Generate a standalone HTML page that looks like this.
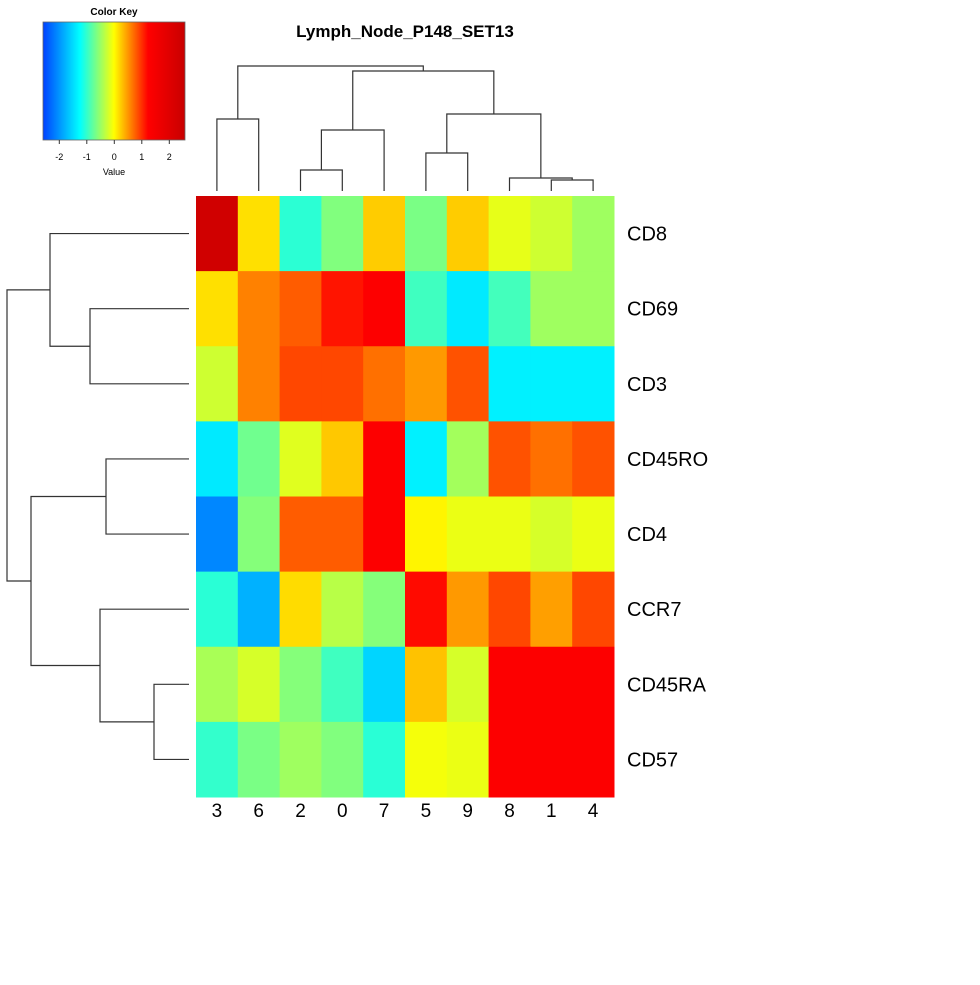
<!DOCTYPE html>
<html><head><meta charset="utf-8"><style>
body{margin:0;background:#fff;font-family:"Liberation Sans",sans-serif}
</style></head><body>
<svg id="chart" width="980" height="980" xmlns="http://www.w3.org/2000/svg">
<defs><linearGradient id="kg" x1="0" x2="1" y1="0" y2="0">
<stop offset="0" stop-color="#0040ff"/><stop offset="0.26" stop-color="#00ffff"/><stop offset="0.5" stop-color="#ffff00"/><stop offset="0.74" stop-color="#ff0000"/><stop offset="1" stop-color="#c80000"/></linearGradient></defs>
<rect width="980" height="980" fill="#fff"/>
<text x="405" y="37" font-size="17" font-weight="bold" text-anchor="middle">Lymph_Node_P148_SET13</text>
<g>
<text x="114" y="15" font-size="10" font-weight="bold" text-anchor="middle">Color Key</text>
<rect x="43" y="22" width="142" height="118" fill="url(#kg)" stroke="#666" stroke-width="0.8"/>
<g id="keyticks"></g>
<text x="114" y="175" font-size="9" text-anchor="middle">Value</text>
</g>
<g id="cells"></g><g id="labels"></g><g id="dendro" stroke="#333" stroke-width="1.2" fill="none"></g>
</svg>
<script>
const rows=["CD8","CD69","CD3","CD45RO","CD4","CCR7","CD45RA","CD57"];
const cols=["3","6","2","0","7","5","9","8","1","4"];
const vCD8=[2.4,0.15,-1.04,-0.62,0.25,-0.65,0.25,-0.12,-0.24,-0.47];
const vCD69=[0.15,0.62,0.8,1.15,1.3,-0.94,-1.4,-0.92,-0.47,-0.47];
const vCD3=[-0.24,0.62,0.9,0.9,0.7,0.5,0.85,-1.35,-1.35,-1.35];
const vCD45RO=[-1.4,-0.7,-0.15,0.27,1.3,-1.35,-0.45,0.85,0.7,0.85];
const vCD4=[-2.1,-0.6,0.8,0.8,1.3,0.05,-0.1,-0.1,-0.2,-0.1];
const vCCR7=[-1.05,-1.8,0.17,-0.35,-0.6,1.2,0.5,0.9,0.47,0.9];
const vCD45RA=[-0.42,-0.2,-0.6,-0.94,-1.55,0.3,-0.2,1.3,1.3,1.3];
const vCD57=[-1.0,-0.65,-0.47,-0.62,-1.05,-0.05,-0.1,1.3,1.3,1.3];
const keyTicks=[-2,-1,0,1,2];
const values=[vCD8,vCD69,vCD3,vCD45RO,vCD4,vCCR7,vCD45RA,vCD57];
const NS="http://www.w3.org/2000/svg";
const X0=196,X1=614,Y0=196,Y1=797;
const cw=(X1-X0)/cols.length,rh=(Y1-Y0)/rows.length;
const xPos=i=>X0+i*cw, yPos=j=>Y0+j*rh;
const keyX=v=>114.3+v*27.5;
function color(v){
 const l=(a,b,t)=>Math.round(a+(b-a)*Math.max(0,Math.min(1,t)));
 let r,g,b;
 if(v<-1.25){const t=(v+2.6)/1.35;r=0;g=l(64,255,t);b=255;}
 else if(v<0){const t=(v+1.25)/1.25;r=l(0,255,t);g=255;b=l(255,0,t);}
 else if(v<1.25){const t=v/1.25;r=255;g=l(255,0,t);b=0;}
 else{const t=(v-1.25)/1.35;r=l(255,200,t);g=0;b=0;}
 return `rgb(${r},${g},${b})`;
}
function mk(tag,attrs,parent){const e=document.createElementNS(NS,tag);for(const k in attrs)e.setAttribute(k,attrs[k]);parent.appendChild(e);return e;}
const cells=document.getElementById('cells');
values.forEach((row,j)=>row.forEach((v,i)=>{
 const r=mk('rect',{x:xPos(i),y:yPos(j),width:cw+0.5,height:rh+0.5,fill:color(v)},cells);
 
 
}));
const labels=document.getElementById('labels');
rows.forEach((n,j)=>{const t=mk('text',{x:627,y:yPos(j)+rh/2+7,'font-size':20},labels);t.textContent=n;
 
 });
cols.forEach((n,i)=>{const t=mk('text',{x:xPos(i)+cw/2,y:817,'font-size':19,'text-anchor':'middle'},labels);t.textContent=n;
 
 });
const kt=document.getElementById('keyticks');
keyTicks.forEach(v=>{mk('line',{x1:keyX(v),x2:keyX(v),y1:140,y2:144,stroke:'#333'},kt);
 const t=mk('text',{x:keyX(v),y:160,'font-size':9,'text-anchor':'middle'},kt);t.textContent=v;
 
 });
// dendrograms
const dg=document.getElementById('dendro');
function path(d,name){const p=mk('path',{d:d},dg);}
const cx=i=>xPos(i)+cw/2, ry=j=>yPos(j)+rh/2;
// column dendrogram: [left x, left y-bottom, right x, right y-bottom, join height]
function cjoin(xl,yl,xr,yr,h,name){path(`M${xl},${yl}V${h}H${xr}V${yr}`,name);return (xl+xr)/2;}
const L=191;
const a=cjoin(cx(0),L,cx(1),L,119,'col-dendro-3-6');
const b=cjoin(cx(2),L,cx(3),L,170,'col-dendro-2-0');
const c=cjoin(b,170,cx(4),L,130,'col-dendro-207');
const d=cjoin(cx(5),L,cx(6),L,153,'col-dendro-5-9');
const e=cjoin(cx(8),L,cx(9),L,180,'col-dendro-1-4');
const f=cjoin(cx(7),L,e,180,178,'col-dendro-8-14');
const g=cjoin(d,153,f,178,114,'col-dendro-59-814');
const h=cjoin(c,130,g,114,71,'col-dendro-right');
cjoin(a,119,h,71,66,'col-dendro-root');
function rjoin(yt,xt,yb,xb,w,name){path(`M${xt},${yt}H${w}V${yb}H${xb}`,name);return (yt+yb)/2;}
const R=189;
const p1=rjoin(ry(1),R,ry(2),R,90,'row-dendro-cd69-cd3');
const p2=rjoin(ry(0),R,p1,90,50,'row-dendro-cd8');
const p3=rjoin(ry(3),R,ry(4),R,106,'row-dendro-cd45ro-cd4');
const p4=rjoin(ry(6),R,ry(7),R,154,'row-dendro-cd45ra-cd57');
const p5=rjoin(ry(5),R,p4,154,100,'row-dendro-ccr7');
const p6=rjoin(p3,106,p5,100,31,'row-dendro-lower');
rjoin(p2,50,p6,31,7,'row-dendro-root');
</script>
</body></html>
